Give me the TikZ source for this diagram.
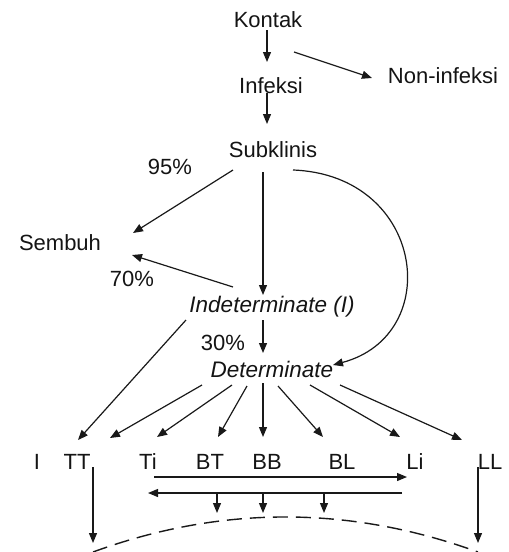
\documentclass[tikz,border=0pt]{standalone}
\usepackage{fontspec}
\setmainfont{Liberation Sans}
\usetikzlibrary{arrows.meta,calc}
\begin{document}
\begin{tikzpicture}[x=1pt,y=-1pt,
  lbl/.style={inner sep=0pt,font=\fontsize{22}{26}\selectfont,text=black!92},
  ital/.style={lbl,font=\fontsize{22.5}{26}\selectfont\itshape},
  arr/.style={draw=black!90,line width=1.2pt,-{Triangle[length=10pt,width=8pt]}},
  dashline/.style={draw=black!90,line width=1.4pt,dash pattern=on 15pt off 8pt}]
\useasboundingbox (0,0) rectangle (509,552);
% nodes
\node[lbl] (K) at (268,20) {Kontak};
\node[lbl] (Inf) at (271,86) {Infeksi};
\node[lbl] (Non) at (443,76) {Non-infeksi};
\node[lbl] (Sub) at (273,150) {Subklinis};
\node[lbl] (p95) at (170,167) {95\%};
\node[lbl] (Sem) at (60,243) {Sembuh};
\node[lbl] (p70) at (132,279) {70\%};
\node[ital] (Ind) at (272,307) {Indeterminate (I)};
\node[lbl] (p30) at (223,343) {30\%};
\node[ital] (Det) at (272,369) {Determinate};
\node[lbl] (I) at (37,462) {I};
\node[lbl] (TT) at (77,462) {TT};
\node[lbl] (Ti) at (148,462) {Ti};
\node[lbl] (BT) at (210,462) {BT};
\node[lbl] (BB) at (267,462) {BB};
\node[lbl] (BL) at (342,462) {BL};
\node[lbl] (Li) at (415,462) {Li};
\node[lbl] (LL) at (490,462) {LL};
% connectors
\draw[arr] ($(K)+(-1,10)$) -- ($(Inf)+(-4,-24)$);
\draw[arr] ($(K)+(26,32)$) -- ($(Non)+(-71,2)$);
\draw[arr] ($(Inf)+(-4,7)$) -- ($(Sub)+(-6,-26)$);
\draw[arr] ($(Sub)+(-40,20)$) -- ($(Sem)+(73,-10)$);
\draw[arr] ($(Sub)+(-10,22)$) -- ($(Ind)+(-9,-12)$);
\draw[arr] ($(Sub)+(20,20)$) .. controls ($(Sub)+(152,25)$) and ($(Det)+(173,-34)$) .. ($(Det)+(61,-4)$);
\draw[arr] ($(Ind)+(-39,-20)$) -- ($(Sem)+(72,12)$);
\draw[arr] ($(Ind)+(-9,13)$) -- ($(Det)+(-9,-16)$);
\draw[arr] ($(Ind)+(-86,13)$) -- ($(TT)+(1,-22)$);
\draw[arr] ($(Det)+(-70,16)$) -- ($(TT)+(33,-24)$);
\draw[arr] ($(Det)+(-40,16)$) -- ($(Ti)+(9,-25)$);
\draw[arr] ($(Det)+(-25,17)$) -- ($(BT)+(8,-25)$);
\draw[arr] ($(Det)+(-9,14)$) -- ($(BB)+(-4,-25)$);
\draw[arr] ($(Det)+(6,17)$) -- ($(BL)+(-19,-25)$);
\draw[arr] ($(Det)+(38,16)$) -- ($(Li)+(-15,-25)$);
\draw[arr] ($(Det)+(68,16)$) -- ($(LL)+(-28,-22)$);
\draw[arr] ($(Ti)+(6,15)$) -- ($(Li)+(-8,15)$);
\draw[arr] ($(Li)+(-13,31)$) -- ($(Ti)+(0,31)$);
\draw[arr] ($(BT)+(7,31)$) -- ++(0,20);
\draw[arr] ($(BB)+(-4,31)$) -- ++(0,20);
\draw[arr] ($(BL)+(-18,31)$) -- ++(0,20);
\draw[arr] ($(TT)+(16,5)$) -- ++(0,76);
\draw[arr] ($(LL)+(-12,5)$) -- ++(0,76);
\coordinate (arcL) at ($(TT)+(16,90)$);
\coordinate (arcR) at ($(LL)+(-12,90)$);
\draw[dashline] (arcL) .. controls (221,505.3) and (349.3,505.3) .. (arcR);
\end{tikzpicture}
\end{document}
